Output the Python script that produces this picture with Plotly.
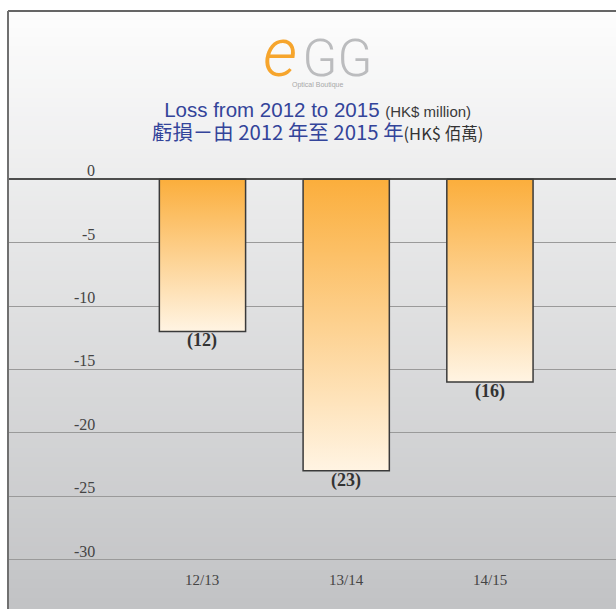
import base64, struct, zlib
import plotly.graph_objects as go

# ---- data ----
categories = ["12/13", "13/14", "14/15"]
loss_values = [-12, -23, -16]
value_labels = ["(12)", "(23)", "(16)"]
y_ticks = [0, -5, -10, -15, -20, -25, -30]
y_tick_labels = ["0", "-5", "-10", "-15", "-20", "-25", "-30"]

W, H = 616, 609
ML, MR, MT, MB = 8, 0, 11, 0
PH = H - MT - MB
PW = W - ML - MR


def py(pix):
    """page pixel y -> paper y"""
    return (H - MB - pix) / PH


def px(pix):
    """page pixel x -> paper x"""
    return (pix - ML) / PW


def gradient_png(top, bottom, n=128):
    rows = []
    for i in range(n):
        t = i / (n - 1)
        rgb = bytes(int(round(a + (b - a) * t)) for a, b in zip(top, bottom))
        rows.append(b"\x00" + rgb)
    raw = b"".join(rows)

    def chunk(tag, data):
        c = struct.pack(">I", len(data)) + tag + data
        return c + struct.pack(">I", zlib.crc32(tag + data) & 0xFFFFFFFF)

    png = b"\x89PNG\r\n\x1a\n"
    png += chunk(b"IHDR", struct.pack(">IIBBBBB", 1, n, 8, 2, 0, 0, 0))
    png += chunk(b"IDAT", zlib.compress(raw))
    png += chunk(b"IEND", b"")
    return "data:image/png;base64," + base64.b64encode(png).decode()


fig = go.Figure()

BAR_HALF = 0.3
for i, (cat, v) in enumerate(zip(categories, loss_values)):
    fig.add_trace(go.Scatter(
        x=[i - BAR_HALF, i + BAR_HALF, i + BAR_HALF, i - BAR_HALF, i - BAR_HALF],
        y=[0, 0, v, v, 0],
        mode="lines",
        fill="toself",
        fillgradient=dict(type="vertical", start=v, stop=0,
                          colorscale=[[0, "#fff4e3"], [1, "#fbae3c"]]),
        line=dict(color="#3a3a3a", width=1.5),
        name=cat,
        hoverinfo="skip",
        showlegend=False,
    ))

annotations = []
# y tick labels (inside the plot, right aligned, above gridline)
for t, lab in zip(y_ticks, y_tick_labels):
    annotations.append(dict(
        x=px(97), xref="paper", y=t, yref="y", text=lab, showarrow=False,
        xanchor="right", yanchor="bottom", yshift=-2,
        font=dict(family="Liberation Serif", size=16, color="#444444")))
# category labels
for i, cat in enumerate(categories):
    annotations.append(dict(
        x=i, xref="x", y=py(580), yref="paper", text=cat, showarrow=False,
        xanchor="center", yanchor="middle",
        font=dict(family="Liberation Serif", size=15, color="#444444")))
# value labels
for i, (v, lab) in enumerate(zip(loss_values, value_labels)):
    annotations.append(dict(
        x=i, xref="x", y=v, yref="y", text="<b>" + lab + "</b>", showarrow=False,
        xanchor="center", yanchor="top", yshift=3,
        font=dict(family="Liberation Serif", size=18, color="#333333")))

# logo (one text block)
logo_text = ("<span style='font-family:Roboto;font-size:68px;color:#f6a52d;font-weight:300'><i>e</i></span>"
             "<span style='font-family:Roboto;font-size:22px'> </span>"
             "<span style='font-family:Roboto;font-size:51px;color:#bbbcbe;font-weight:300'>GG</span>"
             "<br><span style='font-size:7px;color:#a8a8a8'>Optical Boutique</span>")
annotations.append(dict(
    x=px(318), xref="paper", y=py(53), yref="paper", text=logo_text,
    showarrow=False, xanchor="center", yanchor="middle", align="center",
    font=dict(family="Liberation Sans", size=8.5, color="#a8a8a8")))
# titles (one text block, two lines)
title_text = ("<span style='font-size:20.5px;color:#33449a'>Loss from 2012 to 2015 </span>"
              "<span style='font-size:15px;color:#3a3a3a'>(HK$ million)</span><br>"
              "<span style='font-family:Noto Sans CJK TC;font-size:20.4px;color:#33449a'>虧損－由 2012 年至 2015 年</span>"
              "<span style='font-family:Noto Sans CJK TC;font-size:16.5px;color:#333333'>(HK$ 佰萬)</span>")
annotations.append(dict(
    x=px(317), xref="paper", y=py(122), yref="paper", text=title_text,
    showarrow=False, xanchor="center", yanchor="middle", align="center",
    font=dict(family="Liberation Sans", size=17.7, color="#33449a")))

fig.update_layout(
    width=W, height=H,
    margin=dict(l=ML, r=MR, t=MT, b=MB, pad=0),
    paper_bgcolor="white",
    plot_bgcolor="rgba(0,0,0,0)",
    showlegend=False,
    annotations=annotations,
    images=[dict(source=gradient_png((253, 253, 253), (194, 195, 197)),
                 xref="paper", yref="paper", x=0, y=1, sizex=1, sizey=1,
                 xanchor="left", yanchor="top", sizing="stretch", layer="below")],
    shapes=[
        dict(type="line", xref="paper", yref="paper", x0=0, x1=1, y0=1, y1=1,
             line=dict(color="#333333", width=1.5)),
        dict(type="line", xref="paper", yref="paper", x0=0, x1=0, y0=0, y1=1,
             line=dict(color="#707070", width=2)),
    ],
    xaxis=dict(range=[-1.353, 2.877], showgrid=False, zeroline=False,
               showticklabels=False, ticks="", fixedrange=True),
    yaxis=dict(range=[-33.9, 13.28], tickvals=y_ticks, showgrid=True,
               gridcolor="#9a9a9a", gridwidth=1, showticklabels=False,
               zeroline=True, zerolinecolor="#4d4d4d", zerolinewidth=2,
               ticks="", fixedrange=True),
)

fig.write_html(
    "out.html",
    config={"displayModeBar": False},
    post_script="document.body.style.margin='0';document.body.style.overflow='hidden';",
)
